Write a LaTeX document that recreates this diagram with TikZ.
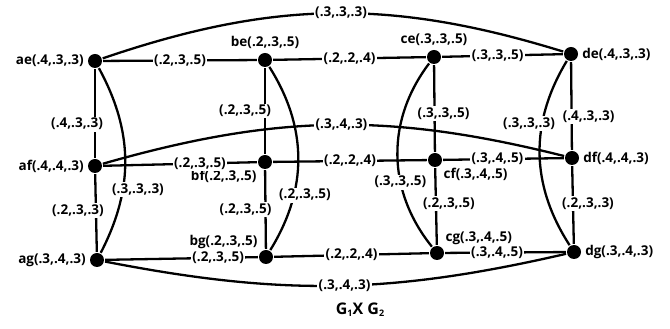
\documentclass[tikz,border=0pt]{standalone}
\usepackage{fontspec}
\setmainfont{Open Sans}
\usetikzlibrary{positioning}

\begin{document}
\begin{tikzpicture}[x=1pt, y=1pt, line width=2.3pt,
    vtx/.style={circle, fill=black, inner sep=0pt, minimum size=14pt},
    wt/.style={fill=white, inner sep=1.5pt, font=\fontsize{13.5}{15}\selectfont\bfseries},
    every label/.append style={font=\fontsize{13.5}{15}\selectfont\bfseries, inner sep=1pt},
    label distance=1pt]
    \useasboundingbox (0,0) rectangle (670,329);

    % row e
    \node (ae) [vtx, label=left:{ae(.4,.3,.3)}] at (95,268) {};
    \node (be) [vtx, label=above:{be(.2,.3,.5)}] at (265,269) {};
    \node (ce) [vtx, label=above:{ce(.3,.3,.5)}] at (434,272) {};
    \node (de) [vtx, label=right:{de(.4,.3,.3)}] at (571,275) {};
    % row f
    \node (af) [vtx, label=left:{af(.4,.4,.3)}] at (95,163) {};
    \node (bf) [vtx, label=below left:{bf(.2,.3,.5)}] at (265,167) {};
    \node (cf) [vtx, label=below right:{cf(.3,.4,.5)}] at (435,169) {};
    \node (df) [vtx, label=right:{df(.4,.4,.3)}] at (572,171) {};
    % row g
    \node (ag) [vtx, label=left:{ag(.3,.4,.3)}] at (97,69) {};
    \node (bg) [vtx, label=above left:{bg(.2,.3,.5)}] at (266,72) {};
    \node (cg) [vtx, label=above right:{cg(.3,.4,.5)}] at (437,76) {};
    \node (dg) [vtx, label=right:{dg(.3,.4,.3)}] at (574,77) {};

    % horizontal edges
    \draw (ae) -- node[wt] {(.2,.3,.5)} (be);
    \draw (be) -- node[wt] {(.2,.2,.4)} (ce);
    \draw (ce) -- node[wt, pos=.46] {(.3,.3,.5)} (de);
    \draw (af) -- node[wt, pos=.63] {(.2,.3,.5)} (bf);
    \draw (bf) -- node[wt] {(.2,.2,.4)} (cf);
    \draw (cf) -- node[wt, pos=.45] {(.3,.4,.5)} (df);
    \draw (ag) -- node[wt, pos=.74] {(.2,.3,.5)} (bg);
    \draw (bg) -- node[wt] {(.2,.2,.4)} (cg);
    \draw (cg) -- node[wt, pos=.43] {(.3,.4,.5)} (dg);

    % vertical edges
    \draw (ae) -- node[wt, pos=.62, xshift=-18pt] {(.4,.3,.3)} (af);
    \draw (af) -- node[wt, pos=.47, xshift=-18pt] {(.2,.3,.3)} (ag);
    \draw (be) -- node[wt, pos=.5, xshift=-20pt] {(.2,.3,.5)} (bf);
    \draw (bf) -- node[wt, pos=.5, xshift=-20pt] {(.2,.3,.5)} (bg);
    \draw (ce) -- node[wt, pos=.56, xshift=9pt] {(.3,.3,.5)} (cf);
    \draw (cf) -- node[wt, pos=.46, xshift=13pt] {(.2,.3,.5)} (cg);
    \draw (de) -- node[wt, pos=.62, xshift=17pt] {(.4,.3,.3)} (df);
    \draw (df) -- node[wt, pos=.48, xshift=15pt] {(.2,.3,.3)} (dg);

    % curved edges e--g
    \draw (ae) to[bend left=28] node[wt, pos=.66, xshift=15pt] {(.3,.3,.3)} (ag);
    \draw (be) to[bend left=32] node[wt, pos=.7, xshift=11pt] {(.2,.3,.5)} (bg);
    \draw (ce) to[bend right=38] node[wt, pos=.64] {(.3,.3,.5)} (cg);
    \draw (de) to[bend right=32] node[wt, pos=.34, xshift=-13pt] {(.3,.3,.3)} (dg);

    % long arcs a--d
    \draw (ae) to[bend left=18] node[wt, pos=.52] {(.3,.3,.3)} (de);
    \draw (af) to[bend left=15] node[wt, pos=.52] {(.3,.4,.3)} (df);
    \draw (ag) to[bend right=12] node[wt, pos=.52] {(.3,.4,.3)} (dg);

    \node (title) [font=\fontsize{16}{18}\selectfont\bfseries] at (360,19) {G{\fontsize{9}{10}\selectfont\raisebox{-2pt}{1}}X G{\fontsize{9}{10}\selectfont\raisebox{-2pt}{2}}};
\end{tikzpicture}
\end{document}
